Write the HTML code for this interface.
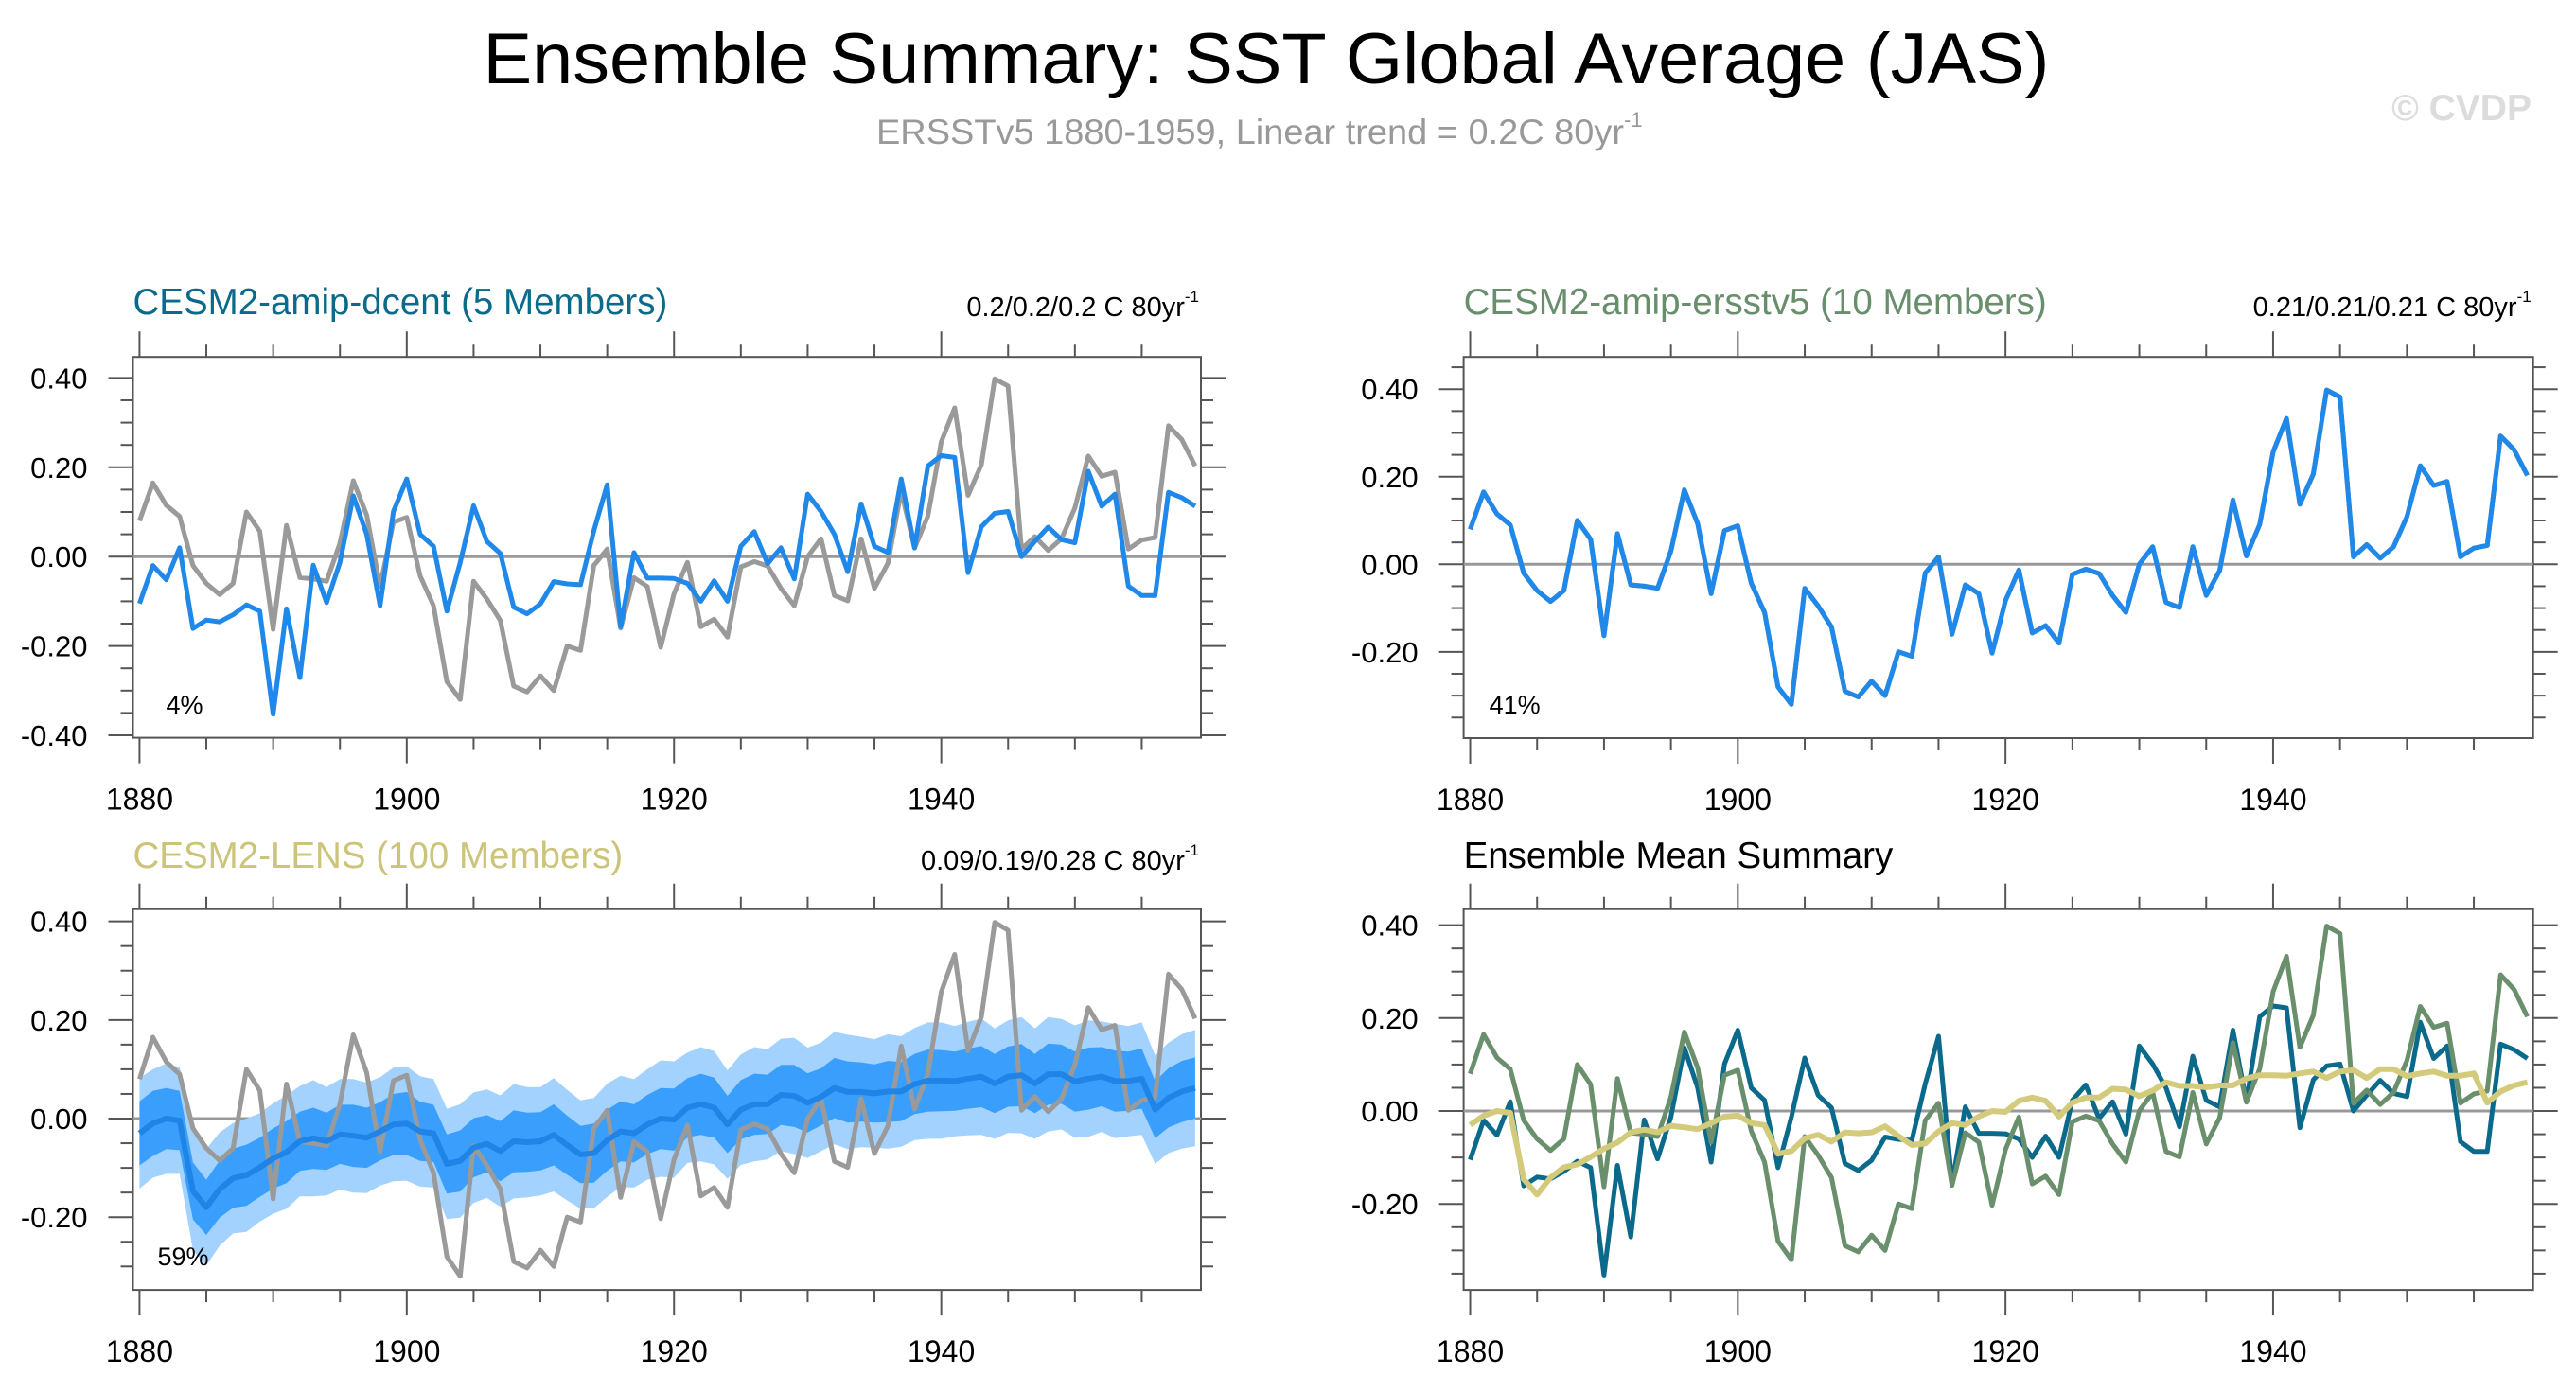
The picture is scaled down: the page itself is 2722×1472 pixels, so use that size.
<!DOCTYPE html>
<html><head><meta charset="utf-8"><title>Ensemble Summary: SST Global Average (JAS)</title>
<style>
html,body{margin:0;padding:0;background:#fff;}
svg{display:block;font-family:"Liberation Sans",Arial,sans-serif;}
</style></head>
<body>
<svg id="chart" width="2722" height="1472" viewBox="0 0 2722 1472" xmlns="http://www.w3.org/2000/svg">
  <rect x="0" y="0" width="2722" height="1472" fill="#fff"/>
  <text x="1338" y="88" font-size="76" text-anchor="middle" textLength="1655" lengthAdjust="spacingAndGlyphs" fill="#000">Ensemble Summary: SST Global Average (JAS)</text>
  <text x="926" y="152" font-size="37" fill="#999"><tspan textLength="790" lengthAdjust="spacingAndGlyphs">ERSSTv5 1880-1959, Linear trend = 0.2C 80yr</tspan><tspan font-size="22" dy="-18">-1</tspan></text>
  <text x="2675" y="127" font-size="39" font-weight="bold" text-anchor="end" fill="#dcdcdc">© CVDP</text>
</svg>
<script>
const years = [];
for (let y = 1880; y <= 1959; y++) years.push(y);

const obs = [0.08,0.165,0.115,0.09,-0.02,-0.06,-0.085,-0.06,0.10,0.057,
-0.163,0.07,-0.047,-0.05,-0.055,0.03,0.17,0.093,-0.067,0.077,
0.088,-0.043,-0.11,-0.28,-0.32,-0.055,-0.095,-0.143,-0.29,-0.303,
-0.267,-0.30,-0.20,-0.21,-0.02,0.017,-0.16,-0.047,-0.067,-0.203,
-0.083,-0.013,-0.157,-0.14,-0.18,-0.023,-0.011,-0.021,-0.071,-0.11,
0.0,0.04,-0.087,-0.099,0.04,-0.071,-0.015,0.147,0.019,0.091,
0.257,0.333,0.137,0.206,0.398,0.382,0.017,0.045,0.014,0.04,
0.109,0.225,0.18,0.189,0.017,0.037,0.043,0.293,0.262,0.203];

const ersst = [0.08,0.165,0.115,0.09,-0.02,-0.06,-0.085,-0.06,0.10,0.057,
-0.163,0.07,-0.047,-0.05,-0.055,0.03,0.17,0.093,-0.067,0.077,
0.088,-0.043,-0.11,-0.28,-0.32,-0.055,-0.095,-0.143,-0.29,-0.303,
-0.267,-0.30,-0.20,-0.21,-0.02,0.017,-0.16,-0.047,-0.067,-0.203,
-0.083,-0.013,-0.157,-0.14,-0.18,-0.023,-0.011,-0.021,-0.071,-0.11,
0.0,0.04,-0.087,-0.099,0.04,-0.071,-0.015,0.147,0.019,0.091,
0.257,0.333,0.137,0.206,0.398,0.382,0.017,0.045,0.014,0.04,
0.109,0.225,0.18,0.189,0.017,0.037,0.043,0.293,0.262,0.203];

const dcent = [-0.105,-0.02,-0.052,0.02,-0.161,-0.142,-0.146,-0.13,-0.108,-0.122,
-0.353,-0.117,-0.271,-0.019,-0.103,-0.013,0.136,0.05,-0.11,0.101,
0.174,0.05,0.023,-0.122,-0.013,0.114,0.034,0.007,-0.113,-0.128,
-0.106,-0.056,-0.061,-0.063,0.058,0.161,-0.157,0.009,-0.048,-0.048,
-0.049,-0.06,-0.1,-0.054,-0.1,0.023,0.056,-0.016,0.02,-0.05,
0.14,0.101,0.05,-0.034,0.118,0.023,0.009,0.174,0.02,0.203,
0.226,0.222,-0.036,0.067,0.097,0.101,0.0,0.034,0.066,0.038,
0.031,0.191,0.113,0.14,-0.066,-0.087,-0.087,0.144,0.132,0.113];

const lens = [-0.03,-0.01,0.0,-0.004,-0.147,-0.18,-0.143,-0.121,-0.115,-0.099,
-0.081,-0.068,-0.046,-0.04,-0.046,-0.032,-0.035,-0.039,-0.026,-0.012,
-0.01,-0.026,-0.03,-0.092,-0.086,-0.059,-0.051,-0.066,-0.046,-0.048,
-0.046,-0.033,-0.054,-0.073,-0.07,-0.044,-0.026,-0.03,-0.012,0.0,
-0.002,0.022,0.029,0.022,-0.012,0.018,0.029,0.029,0.048,0.046,
0.032,0.044,0.062,0.054,0.054,0.051,0.055,0.055,0.07,0.077,
0.077,0.076,0.081,0.085,0.071,0.085,0.088,0.071,0.09,0.09,
0.075,0.081,0.085,0.076,0.076,0.081,0.018,0.042,0.055,0.062];

const lensSd1 = [0.065,0.066,0.062,0.060,0.058,0.056,0.058,0.060,0.062,0.060,
0.061,0.063,0.060,0.062,0.058,0.060,0.063,0.061,0.059,0.062,
0.064,0.060,0.058,0.060,0.062,0.060,0.058,0.061,0.063,0.060,
0.059,0.062,0.060,0.058,0.060,0.062,0.061,0.059,0.060,0.062,
0.063,0.060,0.062,0.061,0.058,0.060,0.062,0.060,0.061,0.063,
0.060,0.058,0.061,0.062,0.060,0.059,0.062,0.060,0.061,0.063,
0.062,0.060,0.061,0.062,0.060,0.061,0.063,0.060,0.062,0.060,
0.061,0.063,0.060,0.062,0.060,0.061,0.058,0.060,0.062,0.062];

const lensSd2 = [0.112,0.110,0.112,0.108,0.120,0.118,0.115,0.112,0.115,0.110,
0.112,0.115,0.112,0.118,0.110,0.112,0.115,0.112,0.110,0.115,
0.116,0.112,0.110,0.112,0.115,0.112,0.110,0.113,0.116,0.112,
0.110,0.115,0.112,0.110,0.112,0.115,0.113,0.110,0.112,0.118,
0.118,0.112,0.116,0.115,0.110,0.112,0.116,0.112,0.114,0.118,
0.112,0.110,0.114,0.116,0.112,0.110,0.116,0.112,0.114,0.118,
0.118,0.112,0.115,0.118,0.112,0.114,0.118,0.112,0.116,0.112,
0.114,0.118,0.112,0.116,0.112,0.114,0.110,0.112,0.116,0.118];

const yTicksA = [-0.40,-0.20,0.00,0.20,0.40];
const yTicksB = [-0.20,0.00,0.20,0.40];
const xTicks = [1880,1900,1920,1940];
const pctLabels = ['4%','41%','59%'];

const NS = 'http://www.w3.org/2000/svg';
const svg = document.getElementById('chart');
function mk(tag, parent) { const e = document.createElementNS(NS, tag); parent.appendChild(e); return e; }
function setA(e, o) { for (const k in o) e.setAttribute(k, o[k]); }

const panels = [
  {key:'dcent', left:140.5, right:1269, top:377.2, bottom:779.6, ymin:-0.4055, ymax:0.447, yt:yTicksA,
   title:'CESM2-amip-dcent (5 Members)', tcolor:'#0b6a8b', tbase:332, trend:'0.2/0.2/0.2 C 80yr', pct:pctLabels[0], pctY:754},
  {key:'ersst', left:1546.6, right:2676.7, top:377.2, bottom:780, ymin:-0.397, ymax:0.4735, yt:yTicksB,
   title:'CESM2-amip-ersstv5 (10 Members)', tcolor:'#688e6c', tbase:332, trend:'0.21/0.21/0.21 C 80yr', pct:pctLabels[1], pctY:754},
  {key:'lens', left:140.5, right:1269, top:960.7, bottom:1363.1, ymin:-0.3476, ymax:0.4248, yt:yTicksB,
   title:'CESM2-LENS (100 Members)', tcolor:'#cbc479', tbase:917, trend:'0.09/0.19/0.28 C 80yr', pct:pctLabels[2], pctY:1337},
  {key:'summary', left:1546.6, right:2676.7, top:960.7, bottom:1363.1, ymin:-0.385, ymax:0.4344, yt:yTicksB,
   title:'Ensemble Mean Summary', tcolor:'#000', tbase:917, trend:null, pct:null}
];

function drawPanel(p) {
  const g = mk('g', svg);
  
  
  const xmin = 1879.51, xmax = 1959.43;
  const X = v => p.left + (v - xmin) / (xmax - xmin) * (p.right - p.left);
  const Y = v => p.bottom - (v - p.ymin) / (p.ymax - p.ymin) * (p.bottom - p.top);

  const t = mk('text', g);
  setA(t, {x:p.left, y:p.tbase, 'font-size':38.5, fill:p.tcolor});
  t.textContent = p.title;
  
  
  if (p.trend) {
    const tr = mk('text', g);
    setA(tr, {x:p.right - 2, y:p.tbase + 2, 'font-size':29, fill:'#000', 'text-anchor':'end'});
    tr.innerHTML = '<tspan>' + p.trend + '</tspan><tspan font-size="17" dy="-15">-1</tspan>';
    
    
  }

  const tk = mk('g', g);
  setA(tk, {stroke:'#555', 'stroke-width':2});
  
  
  for (let yr = 1880; yr <= 1955; yr += 5) {
    const major = (yr % 20 === 0);
    const L = major ? 27 : 13;
    const x = X(yr);
    const a = mk('line', tk); setA(a, {x1:x, x2:x, y1:p.top, y2:p.top - L});
    const b = mk('line', tk); setA(b, {x1:x, x2:x, y1:p.bottom, y2:p.bottom + L});
  }
  for (let k = -8; k <= 9; k++) {
    const v = k * 0.05;
    if (v < p.ymin || v > p.ymax) continue;
    const major = (k % 4 === 0);
    const L = major ? 26 : 13;
    const y = Y(v);
    const a = mk('line', tk); setA(a, {x1:p.left, x2:p.left - L, y1:y, y2:y});
    const b = mk('line', tk); setA(b, {x1:p.right, x2:p.right + L, y1:y, y2:y});
  }

  const box = mk('rect', g);
  setA(box, {x:p.left, y:p.top, width:p.right - p.left, height:p.bottom - p.top, fill:'none', stroke:'#555', 'stroke-width':2});
  
  

  p.yt.forEach(v => {
    const l = mk('text', g);
    setA(l, {x:p.left - 48, y:Y(v) + 11, 'font-size':31, 'text-anchor':'end', fill:'#000'});
    l.textContent = v.toFixed(2);
    
    
  });
  xTicks.forEach(v => {
    const l = mk('text', g);
    setA(l, {x:X(v), y:p.bottom + 76, 'font-size':32, 'text-anchor':'middle', fill:'#000'});
    l.textContent = v;
    
    
  });

  const z = mk('line', g);
  setA(z, {x1:p.left, x2:p.right, y1:Y(0), y2:Y(0), stroke:'#999', 'stroke-width':3});
  
  

  function band(lo, hi, color, name) {
    let d = '';
    years.forEach((yr, i) => { d += (i ? 'L' : 'M') + X(yr).toFixed(1) + ',' + Y(hi[i]).toFixed(1); });
    for (let i = years.length - 1; i >= 0; i--) d += 'L' + X(years[i]).toFixed(1) + ',' + Y(lo[i]).toFixed(1);
    const pa = mk('path', g);
    setA(pa, {d:d + 'Z', fill:color, stroke:'none'});
    
    
  }
  function line(vals, color, w, name) {
    const pts = years.map((yr, i) => X(yr).toFixed(1) + ',' + Y(vals[i]).toFixed(1)).join(' ');
    const pl = mk('polyline', g);
    setA(pl, {points:pts, fill:'none', stroke:color, 'stroke-width':w, 'stroke-linejoin':'round'});
    
    
  }

  if (p.key === 'dcent') {
    line(obs, '#9a9a9a', 5, 'observed-line');
    line(dcent, '#1f88e8', 5, 'dcent-mean-line');
  } else if (p.key === 'ersst') {
    line(obs, '#9a9a9a', 5, 'observed-line');
    line(ersst, '#1f88e8', 5, 'ersstv5-mean-line');
  } else if (p.key === 'lens') {
    band(lens.map((v, i) => v - lensSd2[i]), lens.map((v, i) => v + lensSd2[i]), '#a3d2ff', 'lens-outer-band');
    band(lens.map((v, i) => v - lensSd1[i]), lens.map((v, i) => v + lensSd1[i]), '#3a9ffc', 'lens-inner-band');
    line(obs, '#9a9a9a', 5, 'observed-line');
    line(lens, '#1f84e6', 6, 'lens-mean-line');
  } else {
    line(dcent, '#0b6a8b', 5, 'dcent-summary-line');
    line(ersst, '#6a8f6c', 5, 'ersstv5-summary-line');
    line(lens, '#d3cb7b', 6, 'lens-summary-line');
  }

  if (p.pct) {
    const pc = mk('text', g);
    setA(pc, {x:p.left + (p.key === 'lens' ? 26 : (p.key === 'ersst' ? 27 : 35)), y:p.pctY, 'font-size':27, fill:'#000'});
    pc.textContent = p.pct;
    
    
  }
}
panels.forEach(drawPanel);
</script>
</body></html>
